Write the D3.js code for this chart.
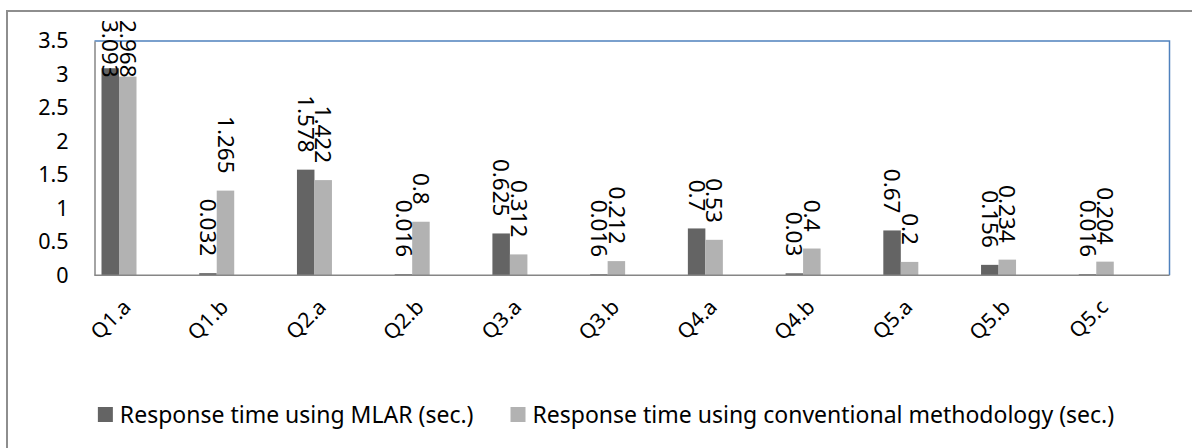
<!DOCTYPE html>
<html>
<head>
<meta charset="utf-8">
<script src="https://cdn.jsdelivr.net/npm/d3@7"></script>
<style>
  body { margin: 0; background: #fff; }
  svg { display: block; font-family: "Noto Sans", "Open Sans", sans-serif; }
</style>
</head>
<body>
<div id="chart"></div>
<script>

// ------------------------ data ------------------------------

var categories = ["Q1.a", "Q1.b", "Q2.a", "Q2.b", "Q3.a", "Q3.b", "Q4.a", "Q4.b", "Q5.a", "Q5.b", "Q5.c"];
var mlarTimes = [3.093, 0.032, 1.578, 0.016, 0.625, 0.016, 0.7, 0.03, 0.67, 0.156, 0.016];
var conventionalTimes = [2.968, 1.265, 1.422, 0.8, 0.312, 0.212, 0.53, 0.4, 0.2, 0.234, 0.204];
var seriesNames = ["Response time using MLAR (sec.)", "Response time using conventional methodology (sec.)"];
var yTicks = [0, 0.5, 1, 1.5, 2, 2.5, 3, 3.5];

var seriesColours = ["#646464", "#b2b2b2"];

// ------------------------ chart ------------------------------

var build_barChart = function() {

	var svgWidth = 1192, svgHeight = 448;
	// plot frame
	var plot = { left: 94.5, right: 1169.5, top: 41, bottom: 275.3 };
	var step = (plot.right - plot.left) / categories.length;

	var svg = d3.select("#chart").append("svg")
			.attr("width", svgWidth)
			.attr("height", svgHeight);

	// outer chart border
	svg.append("rect")
		.attr("x", 7).attr("y", 11)
		.attr("width", svgWidth).attr("height", svgHeight)
		.attr("fill", "none")
		.attr("stroke", "#8e8e8e")
		.attr("stroke-width", 2);

	var rows = categories.map(function(c, i) {
		return { cat: c, values: [mlarTimes[i], conventionalTimes[i]] };
	});

	// set the ranges (category centres sit a bit left of the frame, like the source)
	var x0 = d3.scaleBand()
				.domain(categories)
				.range([119 - step / 2, 119 - step / 2 + step * categories.length]);
	var x1 = d3.scaleBand()
				.domain([0, 1])
				.range([-17.5, 17.5]);
	var y = d3.scaleLinear()
				.domain([0, 3.5])
				.range([plot.bottom, plot.top]);

	// frame top and right (blue)
	svg.append("path")
		.attr("d", "M" + plot.left + "," + y(3.5) + "H" + plot.right + "V" + y(0))
		.attr("fill", "none")
		.attr("stroke", "#4f81bd")
		.attr("stroke-width", 1.5);

	// bars
	svg.append("g").selectAll(".group")
		.data(rows)
		.enter().append("g")
			.attr("class", "group")
			.attr("transform", function(d) { return "translate(" + (x0(d.cat) + x0.bandwidth() / 2) + ",0)"; })
			.selectAll("rect")
			.data(function(d) { return d.values.map(function(v, k) { return { k: k, v: v }; }); })
			.enter().append("rect")
				.attr("x", function(d) { return x1(d.k); })
				.attr("width", x1.bandwidth())
				.attr("y", function(d) { return y(d.v); })
				.attr("height", function(d) { return y(0) - y(d.v); })
				.attr("fill", function(d) { return seriesColours[d.k]; });

	// y axis
	var axisY = svg.append("g")
			.attr("transform", "translate(" + plot.left + ",0)")
			.call(d3.axisLeft(y).tickValues(yTicks).tickSize(0).tickSizeOuter(0).tickPadding(26).tickFormat(d3.format("")));
	axisY.select(".domain").attr("stroke", "#868686").attr("stroke-width", 1.5);
	axisY.selectAll("text").attr("font-size", 21.5).attr("fill", "#000").attr("font-family", "Noto Sans");

	// x axis
	var axisX = svg.append("g")
			.attr("transform", "translate(0," + plot.bottom + ")")
			.call(d3.axisBottom(x0).tickSize(0).tickSizeOuter(0));
	axisX.select(".domain").remove();
	axisX.selectAll("text")
			.attr("y", 0).attr("dy", 0)
			.attr("text-anchor", "end")
			.attr("transform", "translate(13,33) rotate(-45)")
			.attr("font-size", 21).attr("fill", "#000").attr("font-family", "Noto Sans");
	svg.append("line")
		.attr("x1", plot.left).attr("x2", plot.right)
		.attr("y1", plot.bottom).attr("y2", plot.bottom)
		.attr("stroke", "#868686").attr("stroke-width", 1.5);

	// value labels, rotated, kept inside the chart area
	var labels = svg.append("g").selectAll(".lbl")
		.data(rows.flatMap(function(d) { return d.values.map(function(v, k) { return { cat: d.cat, k: k, v: v }; }); }))
		.enter().append("text")
			.attr("class", "lbl")
			.attr("font-size", 22.5)
			.attr("dy", "0.35em")
			.text(function(d) { return d.v; });
	labels.each(function(d) {
		var el = d3.select(this);
		var len = this.getComputedTextLength();
		var cx = x0(d.cat) + x0.bandwidth() / 2 + x1(d.k) + x1.bandwidth() / 2;
		var yEnd = y(d.v) - 17;
		if (yEnd - len < 20) {
			el.attr("text-anchor", "start").attr("transform", "translate(" + cx + ",20) rotate(90)");
		} else {
			el.attr("text-anchor", "end").attr("transform", "translate(" + cx + "," + yEnd + ") rotate(90)");
		}
	});

	// legend
	var legend = svg.append("g").attr("transform", "translate(0,415)");
	var items = legend.selectAll(".item")
		.data(seriesNames)
		.enter().append("g")
			.attr("class", "item");
	items.append("rect")
		.attr("y", -8).attr("width", 15).attr("height", 15)
		.attr("fill", function(d, i) { return seriesColours[i]; });
	items.append("text")
		.attr("x", 22).attr("dy", "0.35em")
		.attr("font-size", 23)
		.text(function(d) { return d; });

	var xPos = 0, widths = [];
	items.each(function() { widths.push(this.getBBox().width); });
	var total = d3.sum(widths) + 37;
	xPos = 606 - total / 2;
	items.attr("transform", function(d, i) {
		var t = "translate(" + xPos + ",0)";
		xPos += widths[i] + 37;
		return t;
	});

}

build_barChart();
</script>
</body>
</html>
